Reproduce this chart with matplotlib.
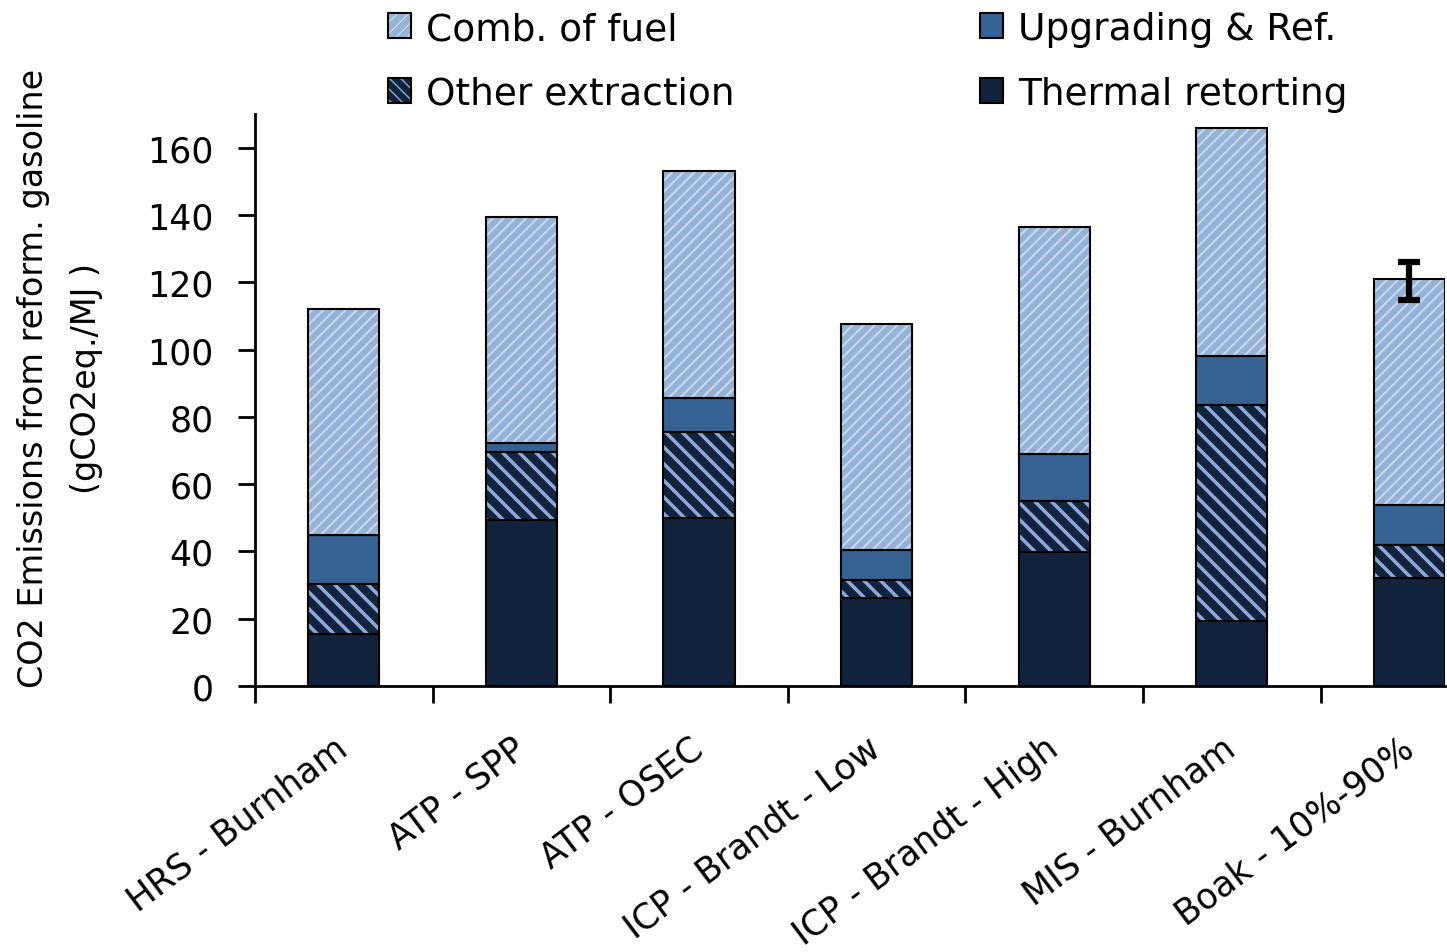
import numpy as np
import matplotlib.pyplot as plt
from matplotlib.patches import Patch

plt.rcParams['font.family'] = ['DejaVu Sans']

categories = ['HRS - Burnham', 'ATP - SPP', 'ATP - OSEC', 'ICP - Brandt - Low',
              'ICP - Brandt - High', 'MIS - Burnham', 'Boak - 10%-90%']
thermal = [15.5, 49.4, 50.0, 26.2, 39.9, 19.3, 32.1]
other_extr = [14.8, 20.2, 25.5, 5.3, 15.1, 64.3, 9.8]
upgrading = [14.6, 2.7, 10.2, 8.9, 14.0, 14.5, 11.9]
comb_fuel = [67.2, 67.2, 67.5, 67.3, 67.5, 67.6, 67.2]
boak_err_low = 6.2
boak_err_high = 5.1

c_thermal = '#12233D'
c_upg = '#366293'
c_comb = '#95B3D7'
c_comb_hatch = '#C8D8EE'
c_other_hatch = '#8EAADB'

fig = plt.figure(figsize=(14.47, 9.53), dpi=100)
ax = fig.add_axes([0.1762, 0.2791, 0.8224, 0.6002])

x = np.arange(len(categories))
w = 0.4
b1 = np.array(thermal)
b2 = b1 + np.array(other_extr)
b3 = b2 + np.array(upgrading)

ax.bar(x, thermal, w, color=c_thermal, edgecolor='black', linewidth=1.5, zorder=2)
# hatched layers: hatch drawn in its own colour, outline drawn on top
with plt.rc_context({'hatch.linewidth': 2.5}):
    ax.bar(x, other_extr, w, bottom=b1, color=c_thermal, edgecolor=c_other_hatch,
           hatch='\\\\', linewidth=0, zorder=2)
ax.bar(x, other_extr, w, bottom=b1, color='none', edgecolor='black', linewidth=1.5, zorder=3)
ax.bar(x, upgrading, w, bottom=b2, color=c_upg, edgecolor='black', linewidth=1.5, zorder=2)
with plt.rc_context({'hatch.linewidth': 1.5}):
    ax.bar(x, comb_fuel, w, bottom=b3, color=c_comb, edgecolor=c_comb_hatch,
           hatch='///', linewidth=0, zorder=2)
ax.bar(x, comb_fuel, w, bottom=b3, color='none', edgecolor='black', linewidth=1.5, zorder=3)

tot = b3 + np.array(comb_fuel)
ax.errorbar(x[-1], tot[-1], yerr=[[boak_err_low], [boak_err_high]], fmt='none',
            ecolor='black', elinewidth=4.5, capsize=8, capthick=4.5, zorder=4)

ax.set_yticks(np.arange(0, 161, 20))
ax.set_xticks(np.arange(-0.5, 6.6, 1))
ax.set_xticklabels([])
ax.set_xticks(x, minor=True)
ax.set_xticklabels(categories, minor=True, rotation=37, ha='right', va='center',
                   rotation_mode='anchor', fontsize=25)
ax.set_xlim(-0.5, 6.2)
ax.set_ylim(0, 170)
ax.tick_params(axis='x', which='minor', length=0, pad=42)
ax.tick_params(axis='x', which='major', length=12, width=2, direction='out')
ax.tick_params(axis='y', length=12, width=2, labelsize=25, pad=18)
for s in ['top', 'right']:
    ax.spines[s].set_visible(False)
for s in ['left', 'bottom']:
    ax.spines[s].set_linewidth(2)

ax.set_ylabel('CO2 Emissions from reform. gasoline\n(gCO2eq./MJ )', fontsize=24,
              linespacing=1.75)
ax.yaxis.set_label_coords(-0.128, 0.54)

with plt.rc_context({'hatch.linewidth': 1.5}):
    h_comb = (Patch(facecolor=c_comb, edgecolor=c_comb_hatch, hatch='///', linewidth=0),
              Patch(facecolor='none', edgecolor='black', linewidth=1.5))
with plt.rc_context({'hatch.linewidth': 2.5}):
    h_other = (Patch(facecolor=c_thermal, edgecolor=c_other_hatch, hatch='\\\\\\', linewidth=0),
               Patch(facecolor='none', edgecolor='black', linewidth=1.5))
h_upg = Patch(facecolor=c_upg, edgecolor='black', linewidth=1.5)
h_th = Patch(facecolor=c_thermal, edgecolor='black', linewidth=1.5)

fig.legend([h_comb, h_other, h_upg, h_th],
           ['Comb. of fuel', 'Other extraction', 'Upgrading & Ref.', 'Thermal retorting'],
           ncol=2, loc='upper left', bbox_to_anchor=(0.2526, 1.011), frameon=False,
           fontsize=27, handlelength=0.6, handleheight=0.65, handletextpad=0.4,
           columnspacing=6.57, labelspacing=0.76, borderaxespad=0.2)

fig.savefig('out.png', dpi=100)
